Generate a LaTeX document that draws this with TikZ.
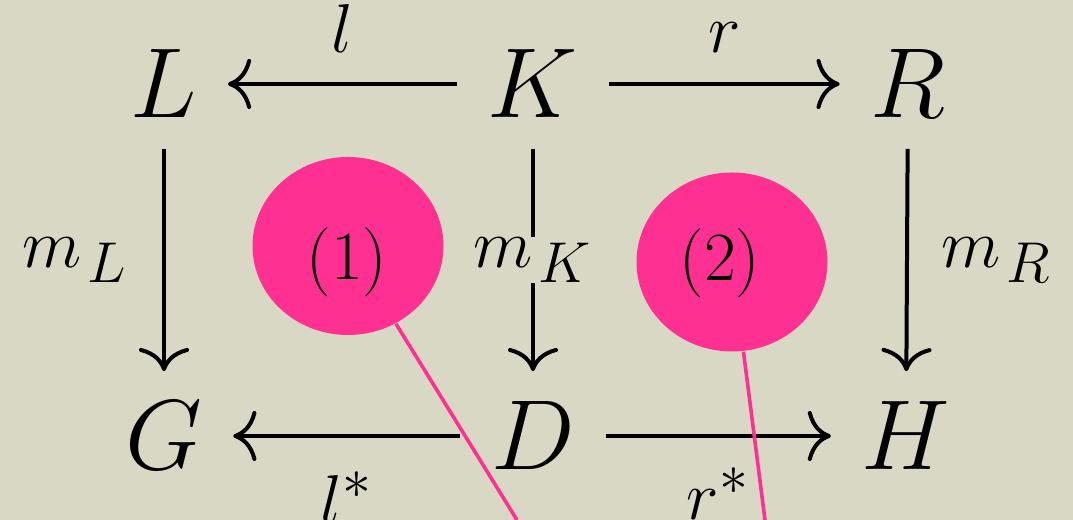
\documentclass[tikz,border=0pt]{standalone}
\usepackage{tikz}
\usetikzlibrary{arrows.meta,shapes.geometric}
\definecolor{paperbg}{RGB}{217,216,197}
\definecolor{markpink}{HTML}{FE3192}
\DeclareMathSizes{16.7}{16.7}{13.4}{10}

\begin{document}
\begin{tikzpicture}[
  x=0.25pt,y=-0.25pt,
  obj/.style={inner sep=7.5pt, anchor=base, font=\fontsize{23}{27}\selectfont},
  mor/.style={-{Computer Modern Rightarrow[length=5.8pt,width=12.5pt]}, line width=1pt, draw=black},
  lbl/.style={inner sep=0pt, font=\fontsize{16.7}{20}\selectfont},
  blob/.style={ellipse, fill=markpink, inner sep=0pt, minimum width=47.75pt},
  blobtext/.style={inner sep=0pt, font=\fontsize{17}{20}\selectfont},
  pin/.style={draw=markpink, line width=.9pt},
]

\path[use as bounding box, fill=paperbg] (0,0) rectangle (1073,520);

% the double pushout
\node[obj] (L) at (164,118) {$L$};
\node[obj] (K) at (533,118) {$K$};
\node[obj] (R) at (908,118) {$R$};
\node[obj] (G) at (164,470) {$G$};
\node[obj] (D) at (533,470) {$D$};
\node[obj] (H) at (906,470) {$H$};

\draw[mor] (K) -- node[lbl, above=7.25pt] {$l$} (L);
\draw[mor] (K) -- node[lbl, above=7.25pt] {$r$} (R);
\draw[mor] (D) -- node[lbl, below=8.5pt] {$l^*$} (G);
\draw[mor] (D) -- node[lbl, below=7.5pt] {$r^*$} (H);
\draw[mor] (L) -- node[lbl, left=8.5pt] {$m_{\mkern2mu L}$} (G);
\draw[mor] (K) -- node[lbl, fill=paperbg] {$m_{\mkern2mu K}$} (D);
\draw[mor] (R) -- node[lbl, right=8pt] {$m_{\mkern2mu R}$} (H);

% pushout squares
\node[blob, minimum height=44.5pt] (sq1) at (348,246) {};
\node[blobtext] (n1) at (347,262) {$(1)$};
\node[blob, minimum height=44.75pt] (sq2) at (732,262) {};
\node[blobtext] (n2) at (720,263) {$(2)$};

\coordinate (e1) at (517,520);
\coordinate (e2) at (765,520);
\draw[pin] (sq1) -- (e1);
\draw[pin] (sq2) -- (e2);
\end{tikzpicture}
\end{document}
